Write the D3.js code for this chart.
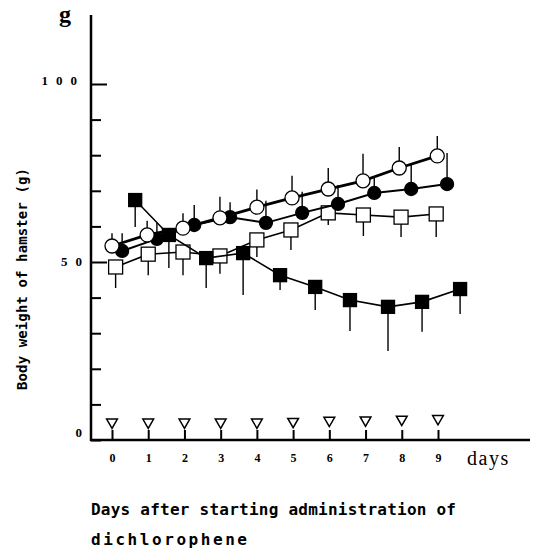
<!DOCTYPE html>
<html>
<head>
<meta charset="utf-8">
<script src="https://cdn.jsdelivr.net/npm/d3@7"></script>
<style>
    body { margin: 0; background: #fff; }
    .tick text { font-family: "Liberation Serif", serif; font-weight: bold; font-size: 12px; }
</style>
</head>
<body>
<div id="chart"></div>
<script>

// days after starting administration
var days = [0, 1, 2, 3, 4, 5, 6, 7, 8, 9];
var yTicks = [0, 10, 20, 30, 40, 50, 60, 70, 80, 90, 100];
var yLabels = [0, 50, 100];

// open circles (SD bars upward)
var openCircleX = [0, 0.97, 1.96, 2.98, 4, 4.97, 5.97, 6.93, 7.93, 8.98];
var openCircleY = [54.5, 57.6, 59.5, 62.4, 65.4, 68, 70.5, 72.8, 76.4, 79.8];
var openCircleSD = [3.6, 4, 4.2, 5.9, 5, 6.2, 5.9, 7.6, 5.9, 5.6];

// filled circles (SD bars upward)
var filledCircleX = [0.28, 1.24, 2.27, 3.26, 4.25, 5.25, 6.24, 7.24, 8.26, 9.25];
var filledCircleY = [53.1, 56.5, 60.4, 62.6, 61, 63.8, 66.3, 69.4, 70.5, 71.9];
var filledCircleSD = [5, 4.5, 5.6, 4.2, 6.2, 5.9, 5.3, 4.5, 7.3, 8.7];

// open squares (SD bars downward)
var openSquareX = [0.1, 1, 1.96, 2.98, 4, 4.94, 5.97, 6.94, 7.98, 8.95];
var openSquareY = [48.6, 52.2, 52.8, 51.7, 56.2, 59, 63.8, 63.2, 62.6, 63.5];
var openSquareSD = [5.9, 5.9, 6.5, 5, 4.8, 5.6, 3.4, 5.9, 5.6, 6.5];

// filled squares (SD bars downward)
var filledSquareX = [0.64, 1.57, 2.6, 3.62, 4.64, 5.61, 6.57, 7.62, 8.56, 9.61];
var filledSquareY = [67.4, 57.6, 51.1, 52.5, 46.3, 43, 39.3, 37.4, 38.8, 42.4];
var filledSquareSD = [7.6, 9.3, 8.4, 11.8, 4.2, 6.5, 8.7, 12.4, 8.4, 7];

// administration days (triangles)
var dosingY = [5, 5, 5, 5, 5, 5.2, 5.5, 5.6, 5.8, 6];

var width = 535, height = 553;

var svg = d3.select("#chart").append("svg")
    .attr("width", width)
    .attr("height", height);

var x = d3.scaleLinear().domain([0, 9]).range([112, 438]);
var y = d3.scaleLinear().domain([0, 100]).range([440, 84]);

// axes
var yAxis = svg.append("g")
    .attr("transform", "translate(91,0)")
    .call(d3.axisLeft(y).tickValues(yTicks).tickSizeInner(-10).tickSizeOuter(0).tickPadding(9)
        .tickFormat(function(d) { return yLabels.indexOf(d) >= 0 ? String(d) : ""; }));
yAxis.select(".domain").remove();
yAxis.selectAll(".tick line")
    .attr("stroke-width", 2)
    .attr("x2", function(d) { return (d == 50 || d == 100) ? 16 : 10; });
yAxis.selectAll(".tick text")
    .style("font-size", "13px")
    .style("letter-spacing", "8px")
    .attr("x", function(d) { return d == 100 ? -6 : -1; })
    .attr("dy", function(d) { return d == 0 ? "-0.3em" : (d == 100 ? "0.05em" : "0.25em"); });

var xAxis = svg.append("g")
    .attr("transform", "translate(0,440)")
    .call(d3.axisBottom(x).tickValues(days).tickSizeInner(-10).tickSizeOuter(0).tickPadding(13));
xAxis.select(".domain").remove();
xAxis.selectAll(".tick line").attr("stroke-width", 2);

svg.append("line")
    .attr("x1", 91).attr("x2", 91).attr("y1", 15).attr("y2", 441)
    .attr("stroke", "#000").attr("stroke-width", 2.5);
svg.append("line")
    .attr("x1", 90).attr("x2", 530).attr("y1", 440).attr("y2", 440)
    .attr("stroke", "#000").attr("stroke-width", 2.5);

// labels
svg.append("text")
    .attr("x", 65).attr("y", 22)
    .attr("text-anchor", "middle")
    .style("font-family", "Liberation Serif, serif")
    .style("font-weight", "bold")
    .style("font-size", "24px")
    .text("g");

svg.append("text")
    .attr("x", 467).attr("y", 465)
    .style("font-family", "Liberation Serif, serif")
    .style("font-size", "20px")
    .style("letter-spacing", "1.5px")
    .text("days");

svg.append("text")
    .attr("transform", "translate(27,279) rotate(-90)")
    .attr("text-anchor", "middle")
    .attr("textLength", 222)
    .style("font-family", "DejaVu Sans Mono, monospace")
    .style("font-weight", "bold")
    .style("font-size", "14px")
    .text("Body weight of hamster (g)");

svg.append("text")
    .attr("x", 91).attr("y", 515)
    .attr("textLength", 365)
    .style("font-family", "DejaVu Sans Mono, monospace")
    .style("font-weight", "bold")
    .style("font-size", "16px")
    .text("Days after starting administration of");

svg.append("text")
    .attr("x", 91).attr("y", 545)
    .attr("textLength", 156)
    .style("font-family", "DejaVu Sans Mono, monospace")
    .style("font-weight", "bold")
    .style("font-size", "16px")
    .text("dichlorophene");

// series
function makeSeries(xs, ys, sd, dir) {
    return xs.map(function(d, i) { return {x: d, y: ys[i], sd: sd[i], dir: dir}; });
}

var series = [
    {data: makeSeries(openSquareX, openSquareY, openSquareSD, -1), shape: "square", fill: "#fff", lw: 1.6, size: 14},
    {data: makeSeries(filledSquareX, filledSquareY, filledSquareSD, -1), shape: "square", fill: "#000", lw: 1.6, size: 13},
    {data: makeSeries(filledCircleX, filledCircleY, filledCircleSD, 1), shape: "circle", fill: "#000", lw: 2, size: 13},
    {data: makeSeries(openCircleX, openCircleY, openCircleSD, 1), shape: "circle", fill: "#fff", lw: 2.8, size: 14}
];

var line = d3.line()
    .x(function(d) { return x(d.x); })
    .y(function(d) { return y(d.y); });

series.forEach(function(s) {
    var g = svg.append("g");

    g.selectAll(".err")
        .data(s.data)
        .enter()
        .append("line")
        .attr("x1", function(d) { return x(d.x); })
        .attr("x2", function(d) { return x(d.x); })
        .attr("y1", function(d) { return y(d.y); })
        .attr("y2", function(d) { return y(d.y + d.dir * d.sd); })
        .attr("stroke", "#000")
        .attr("stroke-width", 1.4);

    g.append("path")
        .datum(s.data)
        .attr("d", line)
        .attr("fill", "none")
        .attr("stroke", "#000")
        .attr("stroke-width", s.lw);

    if (s.shape == "circle") {
        g.selectAll(".mark")
            .data(s.data)
            .enter()
            .append("circle")
            .attr("cx", function(d) { return x(d.x); })
            .attr("cy", function(d) { return y(d.y); })
            .attr("r", s.size / 2)
            .attr("fill", s.fill)
            .attr("stroke", "#000")
            .attr("stroke-width", 1.3);
    } else {
        g.selectAll(".mark")
            .data(s.data)
            .enter()
            .append("rect")
            .attr("x", function(d) { return x(d.x) - s.size / 2; })
            .attr("y", function(d) { return y(d.y) - s.size / 2; })
            .attr("width", s.size)
            .attr("height", s.size)
            .attr("fill", s.fill)
            .attr("stroke", "#000")
            .attr("stroke-width", 1.3);
    }
});

// dosing triangles
svg.selectAll(".dose")
    .data(days)
    .enter()
    .append("path")
    .attr("d", d3.symbol().type(d3.symbolTriangle).size(50))
    .attr("transform", function(d, i) { return "translate(" + x(d) + "," + y(dosingY[i]) + ") rotate(180)"; })
    .attr("fill", "#fff")
    .attr("stroke", "#000")
    .attr("stroke-width", 1.5);

</script>
</body>
</html>
